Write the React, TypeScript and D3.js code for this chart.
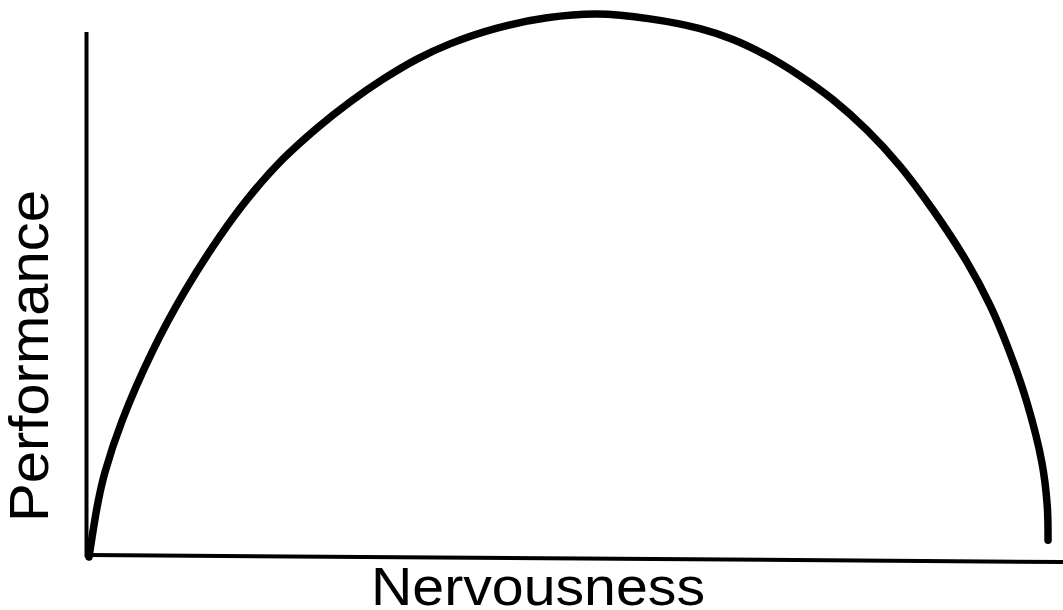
import React, { useRef, useEffect } from "react";
import * as d3 from "d3";

// Inverted-U curve (both axes run 0-100, no ticks)
const nervousness = [
  0, 0.94, 1.67, 3.44, 6.67, 10.0, 13.65, 16.77, 20.21, 23.75, 27.19, 30.63,
  34.17, 37.6, 42.5, 47.71, 52.92, 58.44, 63.65, 67.08, 70.63, 74.06, 77.5,
  81.04, 84.48, 87.92, 91.46, 93.85, 95.63, 97.71, 99.27, 99.81, 99.9,
];
const performance = [
  0, 10.1, 15.65, 25.05, 38.1, 49.0, 59.1, 66.5, 73.3, 79.0, 83.8, 88.0, 91.7,
  94.5, 97.4, 99.3, 100, 99.1, 97.3, 95.3, 92.3, 88.6, 84.2, 78.6, 72.0, 63.9,
  54.3, 46.4, 39.0, 28.4, 17.3, 9.6, 3.1,
];

const xLabel = "Nervousness";
const yLabel = "Performance";

export default function App() {
  const svgRef = useRef<SVGSVGElement | null>(null);

  useEffect(() => {
    const width = 1063;
    const height = 610;

    const svg = d3
      .select(svgRef.current)
      .attr("width", width)
      .attr("height", height);

    svg.selectAll("*").remove();

    // Scales
    const x = d3.scaleLinear().domain([0, 100]).range([89, 1049]);
    const y = d3.scaleLinear().domain([0, 100]).range([557, 14]);

    // Axes (plain lines, no ticks)
    svg.append("line")
      .attr("x1", x(-0.26))
      .attr("y1", y(96.7))
      .attr("x2", x(-0.26))
      .attr("y2", y(0))
      .attr("stroke", "#000")
      .attr("stroke-width", 4);

    svg.append("line")
      .attr("x1", x(0))
      .attr("y1", y(0.37))
      .attr("x2", x(101.46))
      .attr("y2", y(-0.92))
      .attr("stroke", "#000")
      .attr("stroke-width", 4);

    // Curve
    const points: [number, number][] = nervousness.map((n, i) => [n, performance[i]]);
    const line = d3
      .line<[number, number]>()
      .x((d) => x(d[0]))
      .y((d) => y(d[1]))
      .curve(d3.curveCatmullRom.alpha(0.5));

    svg.append("path")
      .datum(points)
      .attr("d", line)
      .attr("fill", "none")
      .attr("stroke", "#000")
      .attr("stroke-width", 7.5)
      .attr("stroke-linecap", "round")
      .attr("stroke-linejoin", "round");

    // Axis labels
    svg.append("text")
      .attr("x", 538)
      .attr("y", 605)
      .attr("text-anchor", "middle")
      .attr("font-family", "'Liberation Sans', Arial, sans-serif")
      .attr("font-size", 53)
      .attr("textLength", 334)
      .attr("lengthAdjust", "spacingAndGlyphs")
      .attr("fill", "#000")
      .text(xLabel);

    svg.append("text")
      .attr("transform", "translate(48, 356) rotate(-90)")
      .attr("text-anchor", "middle")
      .attr("font-family", "'Liberation Sans', Arial, sans-serif")
      .attr("font-size", 55)
      .attr("textLength", 332)
      .attr("lengthAdjust", "spacingAndGlyphs")
      .attr("fill", "#000")
      .text(yLabel);
  }, []);

  return (
    <svg
      ref={svgRef}
      style={{ position: "absolute", left: 0, top: 0, display: "block" }}
    ></svg>
  );
}
